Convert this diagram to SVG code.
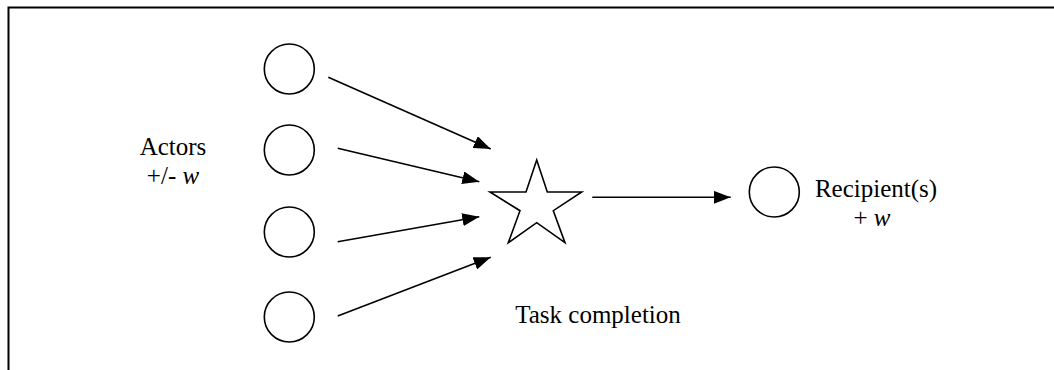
<svg xmlns="http://www.w3.org/2000/svg" width="1054" height="370" viewBox="0 0 1054 370">
<style>
.n{fill:#fff;stroke:#000;stroke-width:1.6}
.c{stroke:#000;stroke-width:1.6;fill:none}
.t{font-family:"Liberation Serif","Times New Roman",serif;font-size:25px;fill:#000}
</style>
<defs>
<marker id="ah2" viewBox="0 0 17 13" refX="17" refY="6.5" markerWidth="17" markerHeight="13" markerUnits="userSpaceOnUse" orient="auto">
<path d="M0,0 L17,6.5 L0,13 z" fill="#000"/>
</marker>
</defs>
<rect width="1054" height="370" fill="#fff"/>
<g id="frame">
<path d="M8.5,370 L8.5,7.5 L1054,7.5" fill="none" stroke="#000" stroke-width="2"/>
</g>
<g id="actor1"><circle class="n" cx="289.3" cy="69" r="25"/></g>
<g id="actor2"><circle class="n" cx="289.3" cy="150" r="25"/></g>
<g id="actor3"><circle class="n" cx="289.3" cy="232" r="25"/></g>
<g id="actor4"><circle class="n" cx="289.3" cy="317" r="25"/></g>
<g id="task"><polygon class="n" points="536.7,160 547.3,192 581.7,192 553.3,210.7 565,242.7 536.7,222.7 508.3,242.7 520,210.7 490,192 526,192"/></g>
<g id="recipient"><circle class="n" cx="774.3" cy="192" r="25"/></g>
<g id="connectors">
<line class="c" x1="328.3" y1="77.3" x2="490.7" y2="149" marker-end="url(#ah2)"/>
<line class="c" x1="337.7" y1="148.3" x2="479.3" y2="181.7" marker-end="url(#ah2)"/>
<line class="c" x1="337.7" y1="241.7" x2="479.3" y2="216.7" marker-end="url(#ah2)"/>
<line class="c" x1="337.7" y1="316" x2="490.7" y2="257.3" marker-end="url(#ah2)"/>
<line class="c" x1="592.3" y1="197.3" x2="730.7" y2="197.3" marker-end="url(#ah2)"/>
</g>
<g id="labels">
<text class="t" x="173" y="155" text-anchor="middle">Actors</text>
<text class="t" x="173" y="184" text-anchor="middle">+/- <tspan font-style="italic">w</tspan></text>
<text class="t" x="876" y="197" text-anchor="middle">Recipient(s)</text>
<text class="t" x="872" y="226" text-anchor="middle">+ <tspan font-style="italic">w</tspan></text>
<text class="t" x="598" y="323" text-anchor="middle">Task completion</text>
</g>
</svg>
